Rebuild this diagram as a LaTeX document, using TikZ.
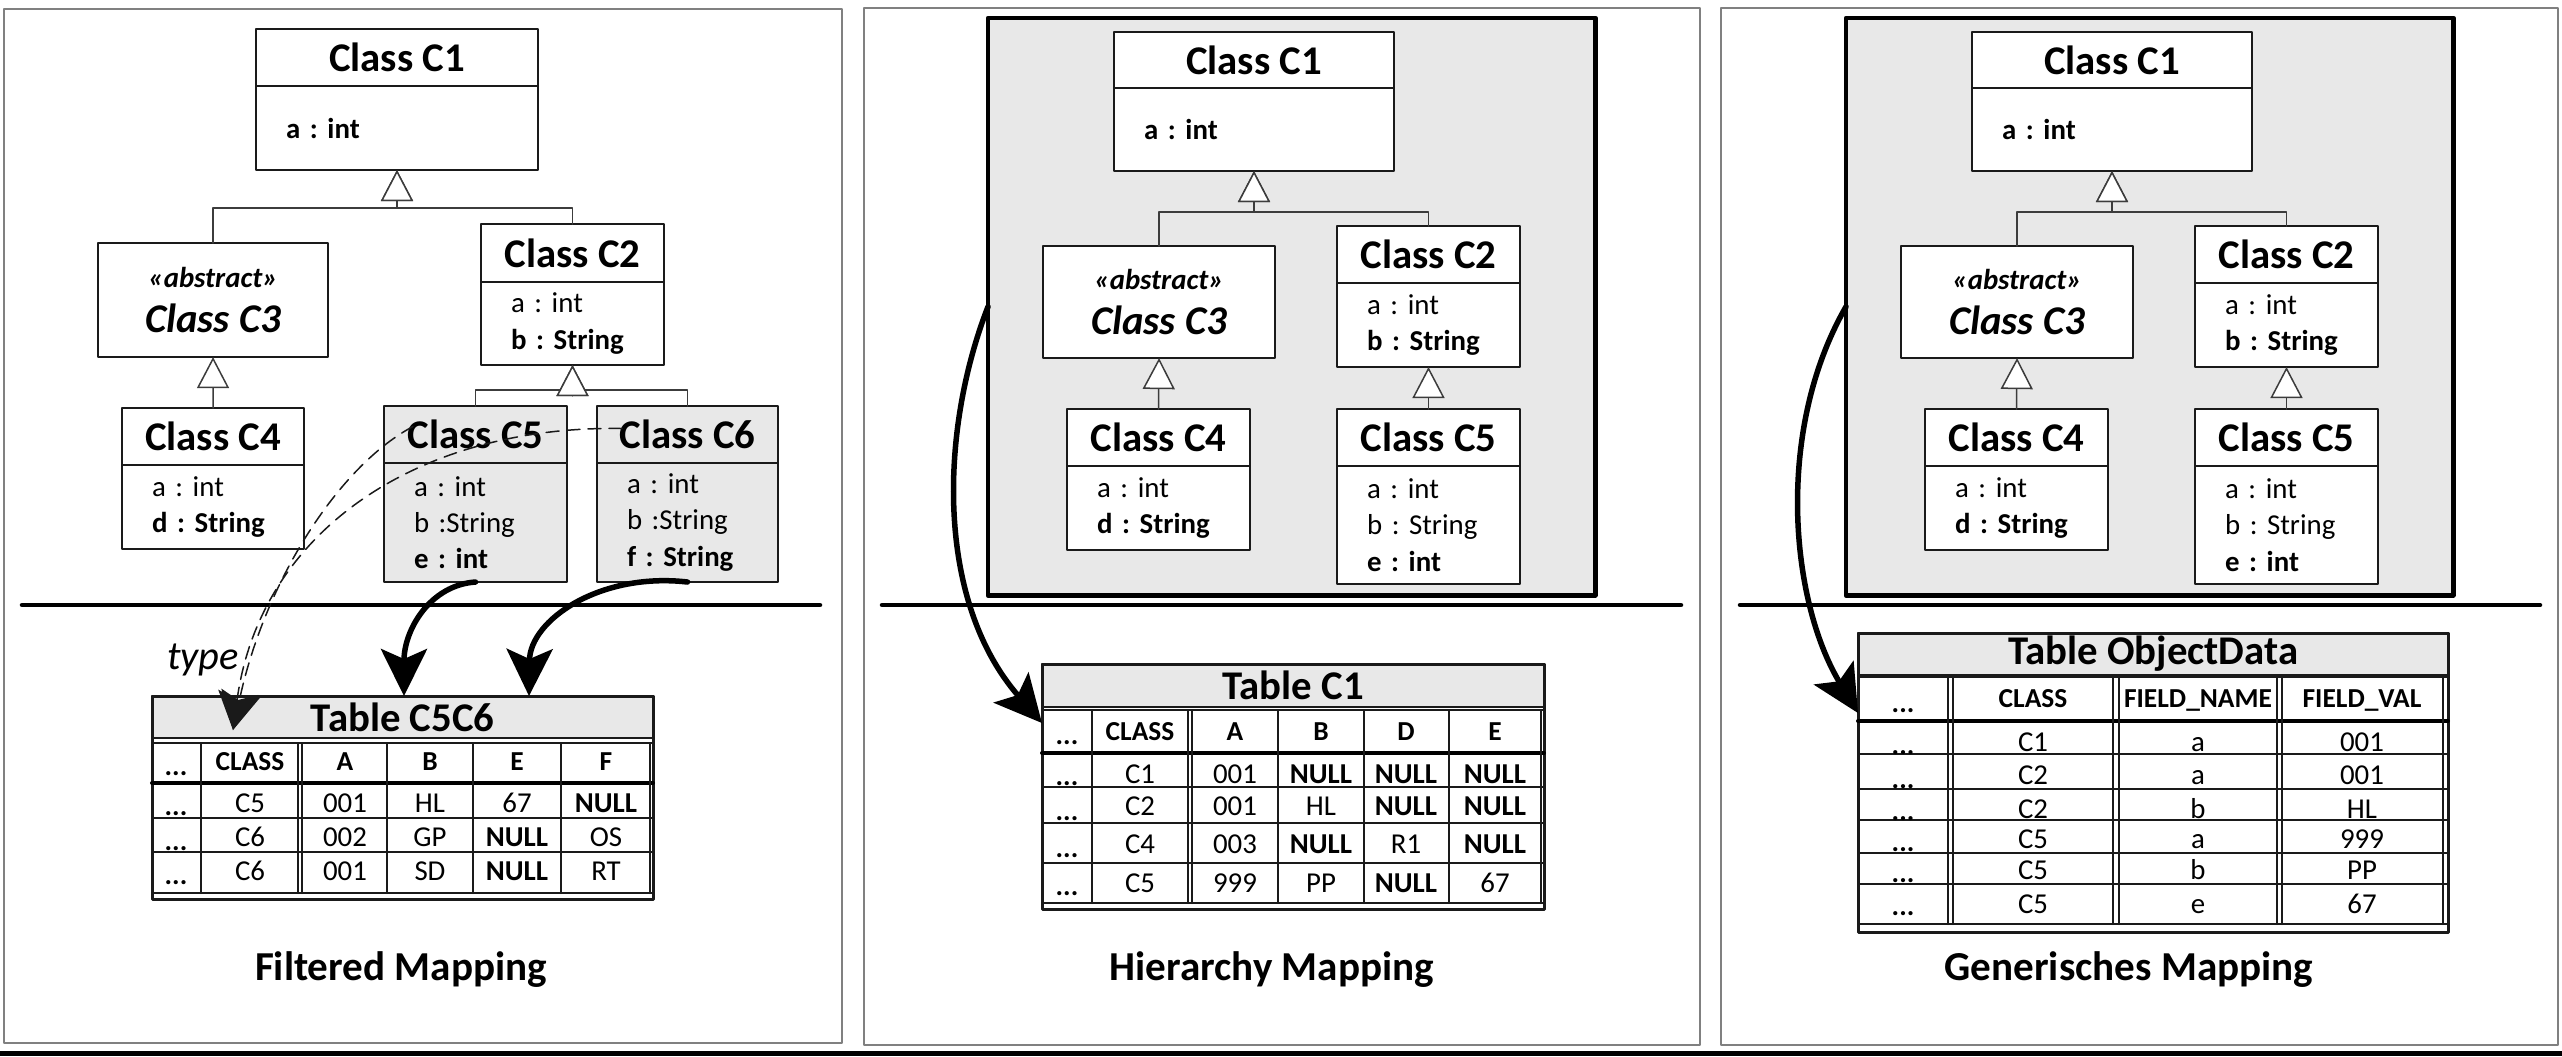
\documentclass[tikz,border=0pt]{standalone}
\usepackage{fontspec}
\setmainfont{Carlito}
\frenchspacing
\usetikzlibrary{arrows.meta,calc}
\definecolor{boxgray}{HTML}{E8E8E8}
\definecolor{framegray}{HTML}{808080}
\definecolor{ink}{HTML}{1A1A1A}
\newcommand\nul{\textbf{NULL}}
% class box: fill, name, x, y, width, head height, body height, title, attributes
\newcommand\umlclass[9]{%
  \pgfmathsetlengthmacro\clsw{#5*0.01cm}%
  \pgfmathsetlengthmacro\clstw{(#5-60)*0.01cm}%
  \node[clshead, fill=#1, minimum width=\clsw, minimum height=#6*0.01cm, anchor=north west] (#2) at (#3,#4) {#8};
  \node[clsbody, fill=#1, text width=\clstw, minimum height=#7*0.01cm, anchor=north] (#2b) at (#2.south) {#9};
}
\begin{document}
\begin{tikzpicture}[x=0.01cm, y=-0.01cm, line join=round, line cap=round]
	\tikzset{
		clshead/.style={draw=ink, line width=0.2mm, inner sep=0pt, outer sep=0pt, font=\fontsize{11.6}{13}\selectfont\bfseries},
		clsbody/.style={draw=ink, line width=0.2mm, inner ysep=0pt, inner xsep=0.3cm, outer sep=0pt, align=left, font=\fontsize{8.2}{10.3}\selectfont\frenchspacing},
		clsabs/.style={draw=ink, fill=white, line width=0.2mm, inner sep=0pt, outer sep=0pt, align=center, font=\fontsize{11.6}{13}\selectfont\bfseries\itshape},
		genline/.style={draw=ink!85, line width=0.15mm, -{Triangle[length=3.1mm, width=3.2mm, fill=white]}},
		graybox/.style={draw=black, fill=boxgray, line width=0.45mm, inner sep=0pt, outer sep=0pt},
		panel/.style={draw=framegray, line width=0.2mm},
		sepline/.style={draw=black, line width=0.45mm},
		maparrow/.style={draw=black, line width=0.55mm, -{Stealth[length=4.7mm, width=4.6mm, inset=1mm]}},
		typedep/.style={draw=ink, line width=0.15mm, dash pattern=on 1.3mm off 0.8mm, -{Stealth[length=3.8mm, width=4mm, inset=0.8mm]}},
		deplabel/.style={inner sep=0pt, font=\fontsize{11.5}{13}\selectfont\itshape},
		tbltitle/.style={draw=ink, fill=boxgray, line width=0.25mm, inner sep=0pt, outer sep=0pt, font=\fontsize{11.6}{13}\selectfont\bfseries},
		tblframe/.style={draw=ink, line width=0.3mm},
		tblgrid/.style={draw=ink, line width=0.2mm},
		tblhead/.style={draw=black, line width=0.4mm},
		hdr/.style={anchor=base, inner sep=0pt, font=\fontsize{7.8}{9}\selectfont\bfseries},
		tcell/.style={anchor=base, inner sep=0pt, font=\fontsize{8.2}{9}\selectfont},
		tdots/.style={anchor=base, inner sep=0pt, font=\fontsize{8}{9}\selectfont\bfseries},
		maplabel/.style={anchor=base, inner sep=0pt, font=\fontsize{11.7}{13}\selectfont\bfseries}
	}
	\useasboundingbox (0,0) rectangle (2562,1056);
	% panels
	\draw[panel] (4,9) rectangle (842,1043);
	\draw[panel] (864,8) rectangle (1700,1045);
	\draw[panel] (1721,8) rectangle (2558,1045);
	\fill[black] (0,1051) rectangle (2562,1056);
	\draw[sepline] (22,605) -- (820,605);
	\draw[sepline] (882,605) -- (1681,605);
	\draw[sepline] (1740,605) -- (2540,605);
	
	% filtered mapping: classes
	\umlclass{white}{c1}{256}{29}{282}{57}{84}{Class C1}{\textbf{a : int}}
	\node[clsabs, minimum width=2.30cm, minimum height=1.14cm, anchor=north west] (c3) at (98,243) {{\fontsize{8.2}{13}\selectfont «abstract»}\\Class C3};
	\umlclass{white}{c2}{481}{224}{183}{58}{83}{Class C2}{a : int\\\textbf{b : String}}
	\umlclass{white}{c4}{122}{408}{182}{57}{84}{Class C4}{a : int\\\textbf{d : String}}
	\umlclass{boxgray}{c5}{384}{406}{183}{57}{119}{Class C5}{a : int\\b :String\\\textbf{e : int}}
	\umlclass{boxgray}{c6}{597}{406}{181}{57}{119}{Class C6}{a : int\\b :String\\\textbf{f : String}}
	\coordinate (bartop) at (0,208);
	\coordinate (barlow) at (0,390);
	\draw[genline] (c3.north) |- (bartop -| c1b.south) -- (c1b.south);
	\draw[genline] (c2.north) |- (bartop -| c1b.south) -- (c1b.south);
	\draw[genline] (c4.north) -- (c3.south);
	\draw[genline] (c5.north) |- (barlow -| c2b.south) -- (c2b.south);
	\draw[genline] (c6.north) |- (barlow -| c2b.south) -- (c2b.south);
	
	% hierarchy + generic mapping: same tree in a gray box
	\foreach \p/\dx in {h/0,g/858}{
		\begin{scope}[xshift=\dx*0.01cm]
			\node[graybox, minimum width=6.07cm, minimum height=5.77cm, anchor=north west] (\p box) at (988,18) {};
			\umlclass{white}{\p c1}{1114}{32}{280}{56}{83}{Class C1}{\textbf{a : int}}
			\node[clsabs, minimum width=2.32cm, minimum height=1.12cm, anchor=north west] (\p c3) at (1043,246) {{\fontsize{8.2}{13}\selectfont «abstract»}\\Class C3};
			\umlclass{white}{\p c2}{1337}{226}{183}{57}{84}{Class C2}{a : int\\\textbf{b : String}}
			\umlclass{white}{\p c4}{1067}{409}{183}{57}{84}{Class C4}{a : int\\\textbf{d : String}}
			\umlclass{white}{\p c5}{1337}{409}{183}{57}{118}{Class C5}{a : int\\b : String\\\textbf{e : int}}
			\coordinate (\p bar) at (0,212);
			\draw[genline] (\p c3.north) |- (\p bar -| \p c1b.south) -- (\p c1b.south);
			\draw[genline] (\p c2.north) |- (\p bar -| \p c1b.south) -- (\p c1b.south);
			\draw[genline] (\p c4.north) -- (\p c3.south);
			\draw[genline] (\p c5.north) -- (\p c2b.south);
		\end{scope}
	}
	
	% table C5C6
	\node[tbltitle, minimum width=5.01cm, minimum height=0.42cm, anchor=north west] (t56) at (152,696) {Table C5C6};
	\draw[tblframe] (152,696) rectangle (653,899);
	\foreach \y in {743,818,852,893} \draw[tblgrid] (152,\y) -- (653,\y);
	\draw[tblhead] (152,783) -- (653,783);
	\foreach \x in {201,298,302,387,473,561,650} \draw[tblgrid] (\x,743) -- (\x,893);
	\node[tdots] (t56d0) at (176,775) {...};
	\foreach \x/\t [count=\i] in {250/CLASS,345/A,430/B,517/E,606/F} \node[hdr] (t56h\i) at (\x,770) {\t};
	\foreach \y/\dy/\cells [count=\i] in {
		812/815/{250/C5,345/001,430/HL,517/67,606/\nul},
		846/850/{250/C6,345/002,430/GP,517/\nul,606/OS},
		880/884/{250/C6,345/001,430/SD,517/\nul,606/RT}}{
		\node[tdots] (t56d\i) at (176,\dy) {...};
		\foreach \x/\v [count=\j] in \cells \node[tcell] (t56c\i-\j) at (\x,\y) {\v};
	}
	
	% table C1
	\node[tbltitle, minimum width=5.02cm, minimum height=0.43cm, anchor=north west] (t1) at (1042,664) {Table C1};
	\draw[tblframe] (1042,664) rectangle (1544,909);
	\foreach \y in {710,787,823,863,903} \draw[tblgrid] (1042,\y) -- (1544,\y);
	\draw[tblhead] (1042,753) -- (1544,753);
	\foreach \x in {1092,1188,1192,1278,1364,1449,1541} \draw[tblgrid] (\x,710) -- (\x,903);
	\node[tdots] (t1d0) at (1067,744) {...};
	\foreach \x/\t [count=\i] in {1140/CLASS,1235/A,1321/B,1406/D,1495/E} \node[hdr] (t1h\i) at (\x,740) {\t};
	\foreach \y/\dy/\cells [count=\i] in {
		783/785/{1140/C1,1235/001,1321/\nul,1406/\nul,1495/\nul},
		815/820/{1140/C2,1235/001,1321/HL,1406/\nul,1495/\nul},
		853/857/{1140/C4,1235/003,1321/\nul,1406/R1,1495/\nul},
		892/895/{1140/C5,1235/999,1321/PP,1406/\nul,1495/67}}{
		\node[tdots] (t1d\i) at (1067,\dy) {...};
		\foreach \x/\v [count=\j] in \cells \node[tcell] (t1c\i-\j) at (\x,\y) {\v};
	}
	
	% table ObjectData
	\node[tbltitle, minimum width=5.90cm, minimum height=0.42cm, anchor=north west] (tod) at (1858,633) {Table ObjectData};
	\draw[tblframe] (1858,633) rectangle (2448,932);
	\foreach \y in {677,754,789,820,853,884,924} \draw[tblgrid] (1858,\y) -- (2448,\y);
	\draw[tblhead] (1858,721) -- (2448,721);
	\foreach \x in {1948,1953,2113,2119,2277,2282,2443} \draw[tblgrid] (\x,677) -- (\x,924);
	\node[tdots] (todd0) at (1903,712) {...};
	\foreach \x/\t [count=\i] in {2033/CLASS,2198/FIELD\_NAME,2362/FIELD\_VAL} \node[hdr] (todh\i) at (\x,707) {\t};
	\foreach \y/\dy/\cells [count=\i] in {
		751/754/{2033/C1,2198/a,2362/001},
		784/788/{2033/C2,2198/a,2362/001},
		818/820/{2033/C2,2198/b,2362/HL},
		848/851/{2033/C5,2198/a,2362/999},
		879/882/{2033/C5,2198/b,2362/PP},
		913/915/{2033/C5,2198/e,2362/67}}{
		\node[tdots] (todd\i) at (1903,\dy) {...};
		\foreach \x/\v [count=\j] in \cells \node[tcell] (todc\i-\j) at (\x,\y) {\v};
	}
	
	% mappings
	\coordinate (typeend) at ($(t56.south west)+(81,-8)$);
	\draw[typedep] ($(c5.west)+(29,-8)$) .. controls (340,465) and (265,580) .. (typeend);
	\draw[typedep] ($(c6.west)+(25,-6)$) .. controls (420,425) and (260,530) .. (typeend);
	\node[deplabel] (typetxt) at (203,660) {type};
	\draw[maparrow] (c5b.south) .. controls (430,585) and (404,630) .. ($(t56.north west)+(252,0)$);
	\draw[maparrow] (c6b.south) .. controls (600,572) and (530,620) .. ($(t56.north west)+(377,0)$);
	\draw[maparrow] (hbox.west) .. controls (940,430) and (935,600) .. ($(t1.south west)+(0,16)$);
	\draw[maparrow] (gbox.west) .. controls (1775,430) and (1790,600) .. ($(tod.south west)+(0,38)$);
	
	% captions
	\node[maplabel] (capf) at (401,980) {Filtered Mapping};
	\node[maplabel] (caph) at (1272,980) {Hierarchy Mapping};
	\node[maplabel] (capg) at (2129,980) {Generisches Mapping};
\end{tikzpicture}
\end{document}
